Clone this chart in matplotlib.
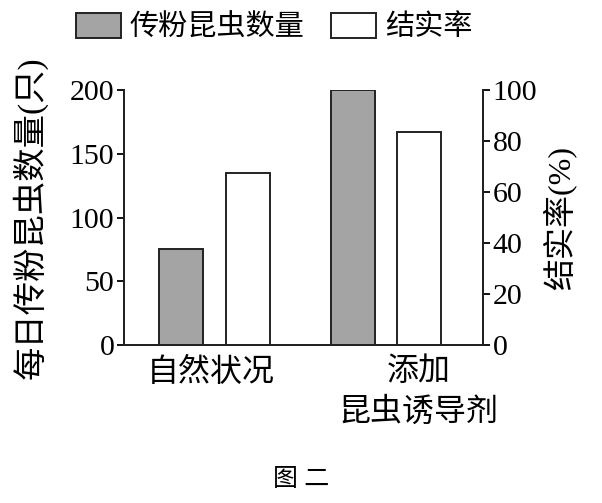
import matplotlib
matplotlib.use("Agg")
import matplotlib.pyplot as plt
import matplotlib.transforms as mtransforms
import numpy as np

plt.rcParams['font.family'] = ['Liberation Serif', 'Noto Sans CJK SC']

groups = ["自然状况", "添加\n昆虫诱导剂"]
insects = [75, 200]          # 每日传粉昆虫数量(只), left axis
fruit_rate = [67.5, 83.5]     # 结实率(%), right axis
left_ticks = [0, 50, 100, 150, 200]
right_ticks = [0, 20, 40, 60, 80, 100]

fig = plt.figure(figsize=(6.02, 5.03), dpi=100)
ax = fig.add_axes([0.206, 0.314, 0.596, 0.507])
ax2 = ax.twinx()

x = np.arange(len(groups))
w = 0.257
off = 0.194
b1 = ax.bar(x - off, insects, w, color='#a4a4a4', edgecolor='#222222', linewidth=1.4)
b2 = ax2.bar(x + off, fruit_rate, w, color='white', edgecolor='#222222', linewidth=1.4)

ax.set_xlim(-0.528, 1.566)
ax.set_ylim(0, 200)
ax2.set_ylim(0, 100)
ax.set_yticks(left_ticks)
ax2.set_yticks(right_ticks)

for a in (ax, ax2):
    a.spines['top'].set_visible(False)
    for s in a.spines.values():
        s.set_linewidth(1.4)
        s.set_color('#222222')
    a.tick_params(axis='y', direction='out', length=5, width=1.3, labelsize=21.5, pad=2)

ax.set_xticks(x)
ax.set_xticklabels(groups, fontsize=23, linespacing=1.45)
ax.tick_params(axis='x', length=0, pad=9)
# second category label sits a bit right of its group
lbls = ax.get_xticklabels()
lbls[1].set_transform(lbls[1].get_transform() +
                      mtransforms.ScaledTranslation(0.33, 0, fig.dpi_scale_trans))
lbls[0].set_transform(lbls[0].get_transform() +
                      mtransforms.ScaledTranslation(-0.04, 0, fig.dpi_scale_trans))

ax.set_ylabel("每日传粉昆虫数量(只)", fontsize=24, labelpad=16)
ax2.set_ylabel("结实率(%)", fontsize=23, rotation=90, labelpad=4)

fig.legend([b1, b2], ["传粉昆虫数量", "结实率"], loc='center', bbox_to_anchor=(0.455, 0.946),
           ncol=2, frameon=False, fontsize=21, handlelength=1.55, handleheight=0.93,
           handletextpad=0.3, columnspacing=0.9)

fig.text(0.5, 0.045, "图 二", ha='center', va='center', fontsize=18)

fig.savefig("out.png", dpi=100, facecolor='white')
